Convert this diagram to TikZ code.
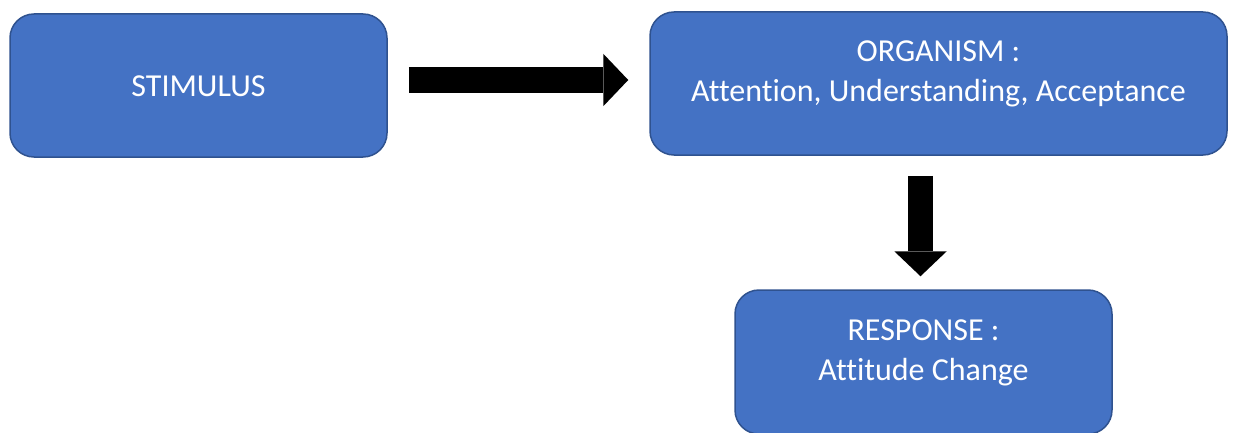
\documentclass[tikz,border=0pt]{standalone}
\usepackage{fontspec}
\setmainfont{Carlito}[Ligatures=CommonOff]
\usetikzlibrary{calc,arrows.meta}
\definecolor{boxblue}{HTML}{4472C4}
\definecolor{boxedge}{HTML}{2F528F}
\tikzset{
  sorbox/.style={draw=boxedge,fill=boxblue,line width=1.5pt,rounded corners=24pt,
    text=white,align=center,font=\fontsize{32}{40}\selectfont,inner sep=0pt,text depth=24pt},
  blockarrow/.style={line width=25.5pt,-{Triangle[length=25pt,width=52.5pt,line width=0pt]}}
}
\begin{document}
\begin{tikzpicture}[x=1pt,y=1pt]
  \useasboundingbox (0,0) rectangle (1233,-433);
  \clip (0,0) rectangle (1233,-433);
  % the three boxes
  \node[sorbox,minimum width=377pt,minimum height=143pt,text height=23pt,text depth=0pt]
    (stimulus) at (198.5,-85.5) {STIMULUS};
  \node[sorbox,minimum width=577pt,minimum height=143pt] (organism) at (938.5,-83.5)
    {ORGANISM :\\Attention, Understanding, Acceptance};
  \node[sorbox,minimum width=377pt,minimum height=144pt] (response) at (923.5,-362)
    {RESPONSE :\\Attitude Change};
  % block arrows
  \draw[blockarrow] ($(stimulus.east)+(21,5.5)$) -- ($(organism.west)+(-21,3.5)$);
  \draw[blockarrow] ($(organism.south)+(-18,-20)$) -- ($(response.north)+(-3,13)$);
\end{tikzpicture}
\end{document}
